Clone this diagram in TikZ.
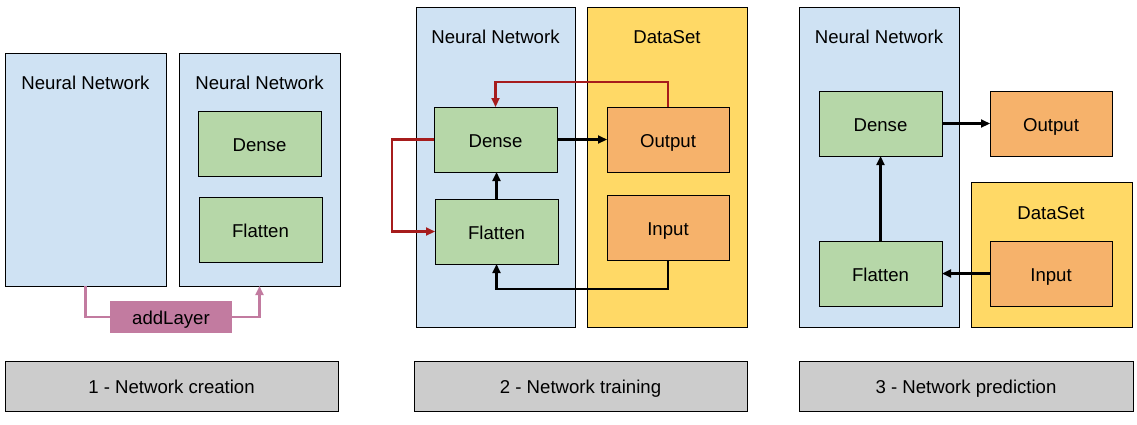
\documentclass[tikz,border=0pt]{standalone}
\usepackage{fontspec}
\setmainfont{Liberation Sans}
\usetikzlibrary{arrows.meta}
\definecolor{nnblue}{HTML}{CFE2F3}
\definecolor{lgreen}{HTML}{B6D7A8}
\definecolor{lorange}{HTML}{F6B26B}
\definecolor{lyellow}{HTML}{FFD966}
\definecolor{lgray}{HTML}{CCCCCC}
\definecolor{lpink}{HTML}{C27BA0}
\definecolor{dred}{HTML}{A61C1C}
\begin{document}
\begin{tikzpicture}[x=1pt,y=-1pt,
  every node/.style={inner sep=0pt,outer sep=0pt,text height=15pt,text depth=0pt,font=\fontsize{18.6}{22}\selectfont},
  panel/.style={draw=black,line width=1pt,fill=nnblue,anchor=north west},
  dsbox/.style={draw=black,line width=1pt,fill=lyellow,anchor=north west},
  layer/.style={draw=black,line width=1pt,fill=lgreen,anchor=north west,minimum width=123pt,minimum height=65pt},
  databox/.style={draw=black,line width=1pt,fill=lorange,anchor=north west,minimum width=122pt,minimum height=65pt},
  caption/.style={draw=black,line width=1pt,fill=lgray,anchor=north west,minimum height=50pt},
  title/.style={anchor=center},
  tip/.style={-{Triangle[length=9pt,width=8pt]}},
  blk/.style={draw=black,line width=2.1pt,tip},
  redc/.style={draw=dred,line width=2.1pt,tip},
  pinkc/.style={draw=lpink,line width=2.1pt},
]
\path[fill=white,use as bounding box] (0,0) rectangle (1137,424);

% ---- Panel 1: creation
\node[panel,minimum width=161pt,minimum height=233pt] (nn1) at (5,53) {};
\node[title] (nn1t) at (85.5,82) {Neural Network};
\node[panel,minimum width=161pt,minimum height=233pt] (nn2) at (179,53) {};
\node[title] (nn2t) at (259.5,82) {Neural Network};
\node[layer] (dense1) at (198,111) {Dense};
\node[layer] (flat1) at (199,197) {Flatten};
\node[fill=lpink,anchor=north west,minimum width=122pt,minimum height=32pt] (add) at (110,301) {addLayer};
\draw[pinkc] (nn1.south) |- (add.west);
\draw[pinkc,tip] (add.east) -| (nn2.south);

% ---- Panel 2: training
\node[panel,minimum width=159pt,minimum height=320pt] (nnm) at (416,7) {};
\node[title] (nnmt) at (495.5,36) {Neural Network};
\node[dsbox,minimum width=160pt,minimum height=320pt] (ds2) at (587,7) {};
\node[title] (ds2t) at (667,36) {DataSet};
\node[layer] (dense2) at (434,107) {Dense};
\node[layer] (flat2) at (435,199) {Flatten};
\node[databox] (out2) at (607,107) {Output};
\node[databox] (in2) at (607,195) {Input};
\draw[blk] (dense2.east) -- (out2.west);
\draw[blk] (flat2.north) -- (flat2.north |- dense2.south);
\draw[blk] (in2.south) -- ++(0,29) -| (flat2.south);
\draw[redc] (out2.north) -- ++(0,-25) -| (dense2.north);
\draw[redc] (dense2.west) -- ++(-42,0) |- (flat2.west);

% ---- Panel 3: prediction
\node[panel,minimum width=160pt,minimum height=320pt] (nnr) at (799,7) {};
\node[title] (nnrt) at (879,36) {Neural Network};
\node[layer] (dense3) at (819,91) {Dense};
\node[layer] (flat3) at (819,241) {Flatten};
\node[databox] (out3) at (990,91) {Output};
\node[dsbox,minimum width=161pt,minimum height=145pt] (ds3) at (971,182) {};
\node[title] (ds3t) at (1051,212) {DataSet};
\node[databox] (in3) at (990,241) {Input};
\draw[blk] (dense3.east) -- (out3.west);
\draw[blk] (flat3.north) -- (dense3.south);
\draw[blk] (in3.west) -- (flat3.east);

% ---- Captions
\node[caption,minimum width=333pt] (c1) at (5,361) {1 - Network creation};
\node[caption,minimum width=333pt] (c2) at (414,361) {2 - Network training};
\node[caption,minimum width=334pt] (c3) at (799,361) {3 - Network prediction};
\end{tikzpicture}
\end{document}
